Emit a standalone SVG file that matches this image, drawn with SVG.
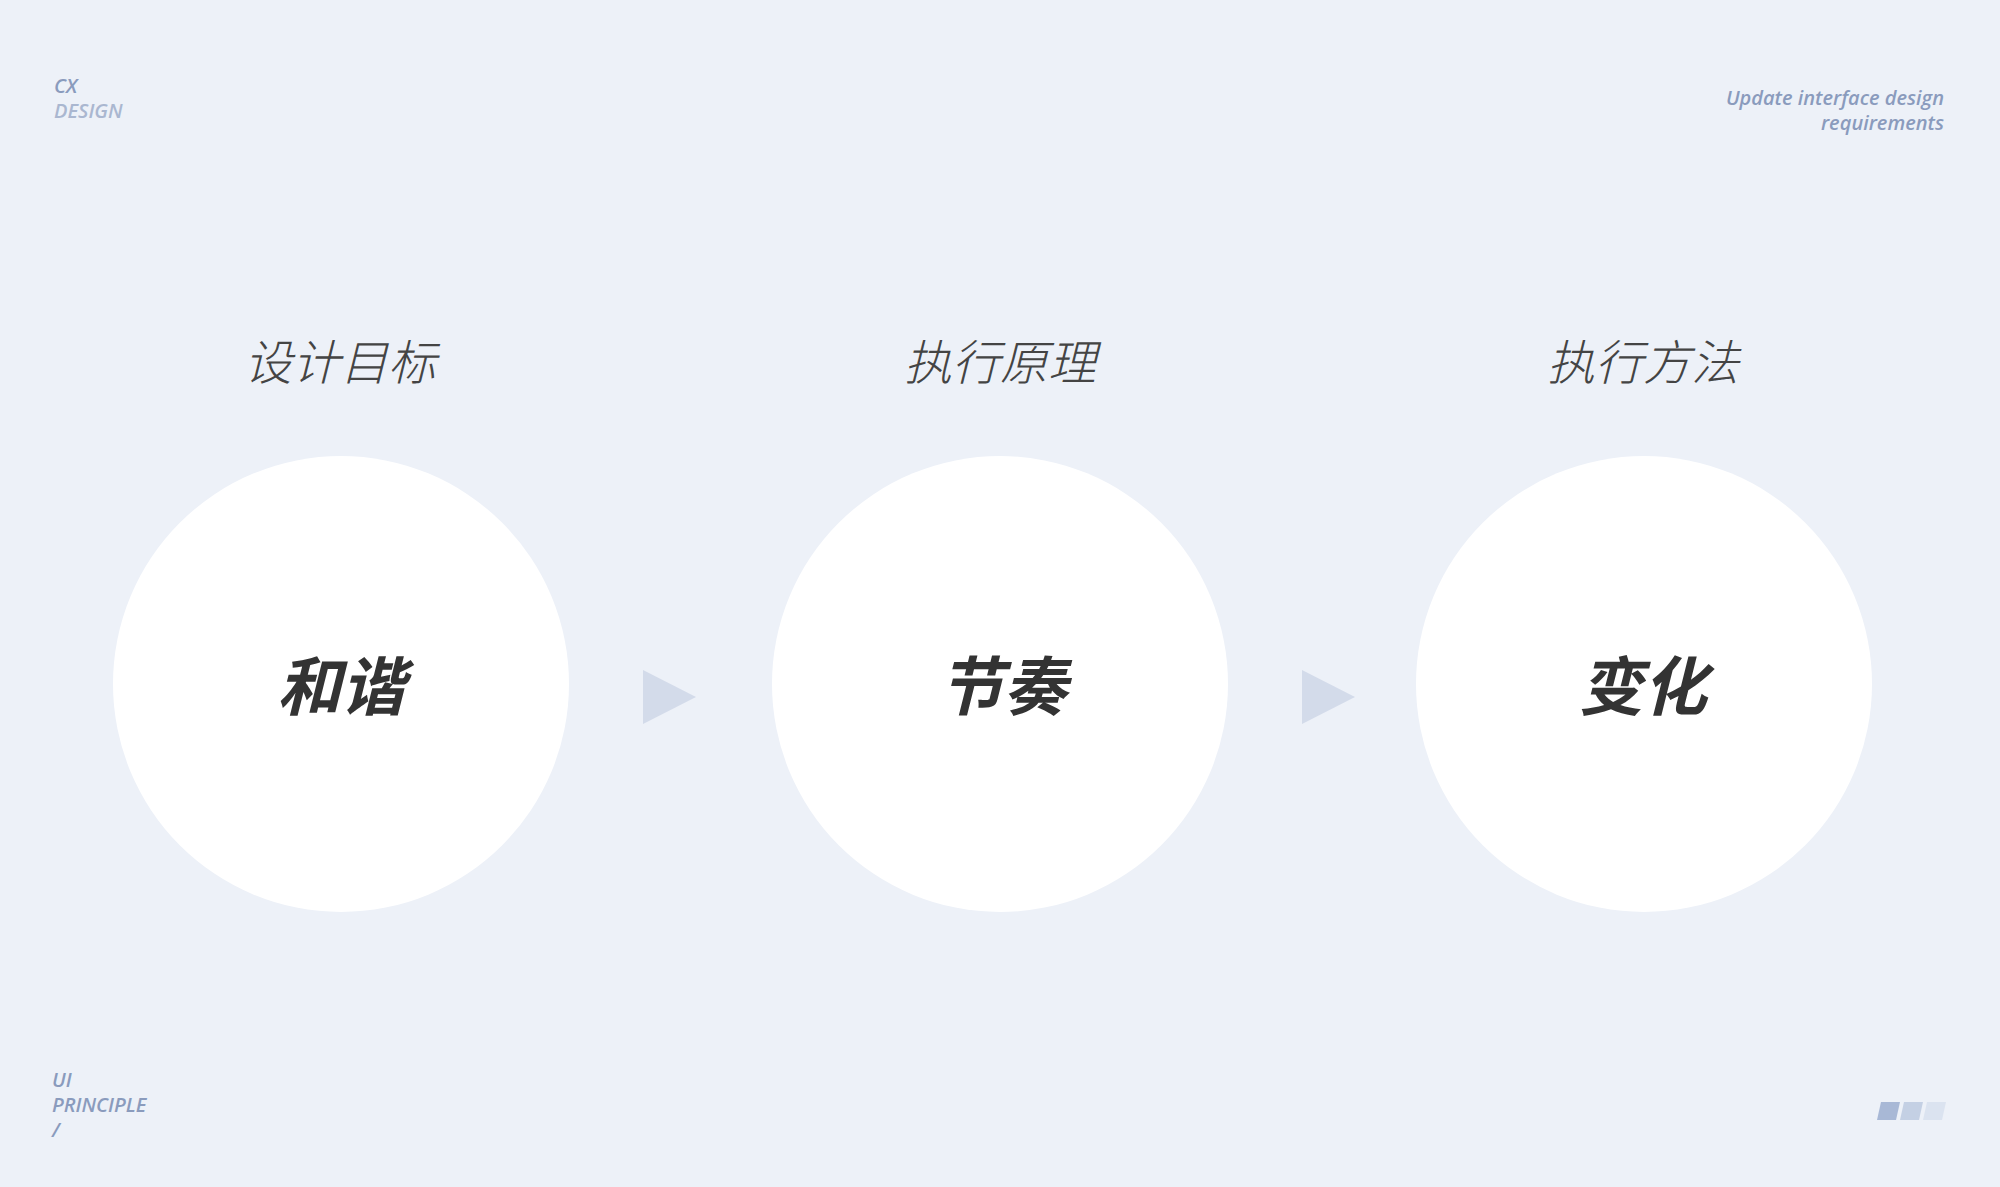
<svg xmlns="http://www.w3.org/2000/svg" width="2000" height="1187" viewBox="0 0 2000 1187">
<style>
.c{fill:#ffffff}
.t{font-family:"Noto Sans CJK SC",sans-serif;font-size:48px;font-weight:300;font-style:italic;fill:#444;text-anchor:middle}
.m{font-family:"Noto Sans CJK SC",sans-serif;font-size:64px;font-weight:700;font-style:italic;fill:#333;text-anchor:middle}
.s{font-family:"Open Sans",sans-serif;font-size:20px;font-weight:600;font-style:italic;fill:#8a9bbd}
.tri{fill:#d3dbea}
</style>
<rect width="2000" height="1187" fill="#edf1f8"/>
<text class="s" x="54" y="93">CX</text>
<text class="s" x="54" y="118" fill="#aab7d0" style="fill:#aab7d0">DESIGN</text>
<text class="s" x="1944" y="105" text-anchor="end" font-size="19">Update interface design</text>
<text class="s" x="1944" y="130" text-anchor="end" font-size="19">requirements</text>
<text class="s" x="52" y="1087">UI</text>
<text class="s" x="52" y="1112">PRINCIPLE</text>
<text class="s" x="52" y="1137">/</text>
<polygon points="1881,1102 1900,1102 1896,1120 1877,1120" fill="#a8b8d6"/>
<polygon points="1904,1102 1923,1102 1919,1120 1900,1120" fill="#c4d0e4"/>
<polygon points="1927,1102 1946,1102 1942,1120 1923,1120" fill="#dbe3f0"/>
<g id="connectors">
<polygon class="tri" points="643,670 696,697 643,724"/>
<polygon class="tri" points="1302,670 1355,697 1302,724"/>
</g>
<g id="n1"><text class="t" x="340" y="380">设计目标</text><circle class="c" cx="341" cy="684" r="228"/><text class="m" x="341" y="710">和谐</text></g>
<g id="n2"><text class="t" x="1000" y="380">执行原理</text><circle class="c" cx="1000" cy="684" r="228"/><text class="m" x="1003" y="710">节奏</text></g>
<g id="n3"><text class="t" x="1643" y="380">执行方法</text><circle class="c" cx="1644" cy="684" r="228"/><text class="m" x="1643" y="710">变化</text></g>
</svg>
